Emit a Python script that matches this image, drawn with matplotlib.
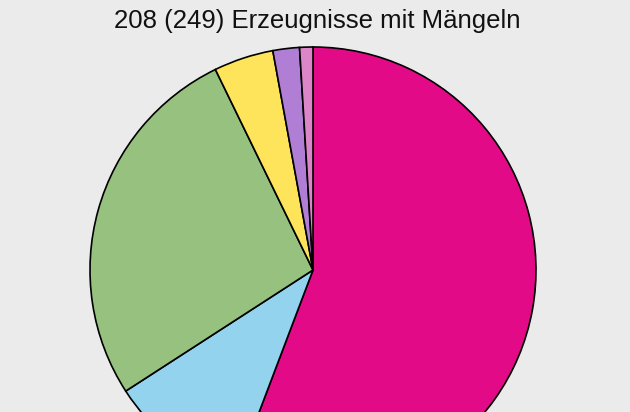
import matplotlib.pyplot as plt

title = "208 (249) Erzeugnisse mit Mängeln"
counts = [116, 21, 56, 9, 4, 2]
colors = ["#E20A86", "#94D3EE", "#96C17E", "#FDE45A", "#B07ED4", "#DC85C8"]

bg = "#EBEBEB"
fig = plt.figure(figsize=(6.3, 4.12), dpi=100, facecolor=bg)
ax = fig.add_axes([0, 0, 1, 1])
ax.set_facecolor(bg)

ax.pie(counts, colors=colors, startangle=90, counterclock=False,
       center=(313, 142), radius=223,
       wedgeprops=dict(edgecolor="black", linewidth=1.2))

ax.set_xlim(0, 630)
ax.set_ylim(0, 412)
ax.set_aspect("equal")
ax.set_axis_off()

fig.text(317 / 630, 1 - 28 / 412, title, ha="center", va="baseline",
         fontsize=18.5, family="Liberation Sans", color="#111111")

fig.savefig("out.png", dpi=100, facecolor=bg)
